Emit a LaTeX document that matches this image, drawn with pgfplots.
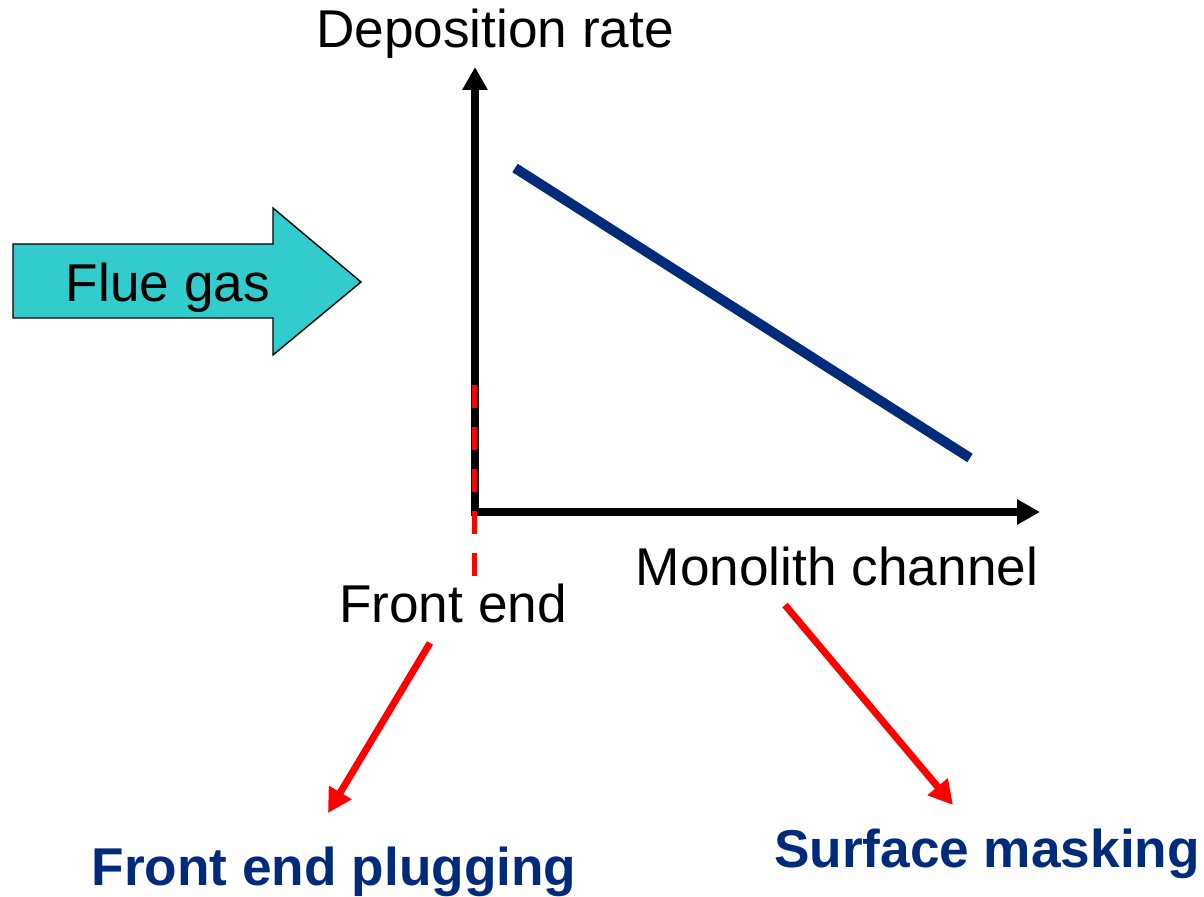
\documentclass[border=0pt]{standalone}
\usepackage{fontspec}
\setmainfont{Liberation Sans}
\usepackage{pgfplots}
\pgfplotsset{compat=1.18}
\usetikzlibrary{arrows.meta}
\definecolor{navy}{HTML}{002A7A}
\definecolor{flue}{HTML}{33CCCC}
\definecolor{pointer}{HTML}{FF0000}
\tikzset{
    lbl/.style={inner sep=0pt, outer sep=0pt, anchor=base, font=\fontsize{26.6}{30}\selectfont},
    note/.style={lbl, text=navy, font=\fontsize{26.6}{30}\selectfont\bfseries},
}
\begin{document}
\begin{tikzpicture}
\begin{axis}[
    scale only axis,
    width=602pt, height=448.5pt,
    xmin=0, xmax=1204, ymin=0, ymax=897,
    y dir=reverse,
    hide axis,
    clip=false,
]
% keep the full canvas in the bounding box
\path (axis cs:0,0) rectangle (axis cs:1204,897);
% flue gas arrow
\addplot[fill=flue, draw=black, line width=0.7pt] coordinates {
    (13,244) (273,244) (273,208) (361,282) (273,355) (273,318) (13,318)
} -- cycle;
% axes
\addplot[black, line width=4pt, -{Triangle[width=12pt,length=11.5pt]}] coordinates {(475,516) (475,67)};
\addplot[black, line width=4pt, -{Triangle[width=12pt,length=11.5pt]}] coordinates {(471,512) (1040,512)};
% deposition rate trend
\addplot[navy, line width=5pt] coordinates {(515,168) (970,458)};
% front end marker
\addplot[pointer, line width=2.5pt, dash pattern=on 11.5pt off 9.5pt] coordinates {(474,385) (474,577)};
% pointers
\addplot[pointer, line width=3.5pt, -{Triangle[width=12.5pt,length=12pt]}] coordinates {(430,643) (328,813)};
\addplot[pointer, line width=3.5pt, -{Triangle[width=12.5pt,length=12pt]}] coordinates {(785,605) (953,805)};
% labels
\node[lbl] at (axis cs:495,48) {Deposition rate};
\node[lbl] at (axis cs:168,302) {Flue gas};
\node[lbl] at (axis cs:837,585) {Monolith channel};
\node[lbl] at (axis cs:453,622) {Front end};
\node[note] at (axis cs:334,885) {Front end plugging};
\node[note] at (axis cs:987,867) {Surface masking};
\end{axis}
\end{tikzpicture}
\end{document}
